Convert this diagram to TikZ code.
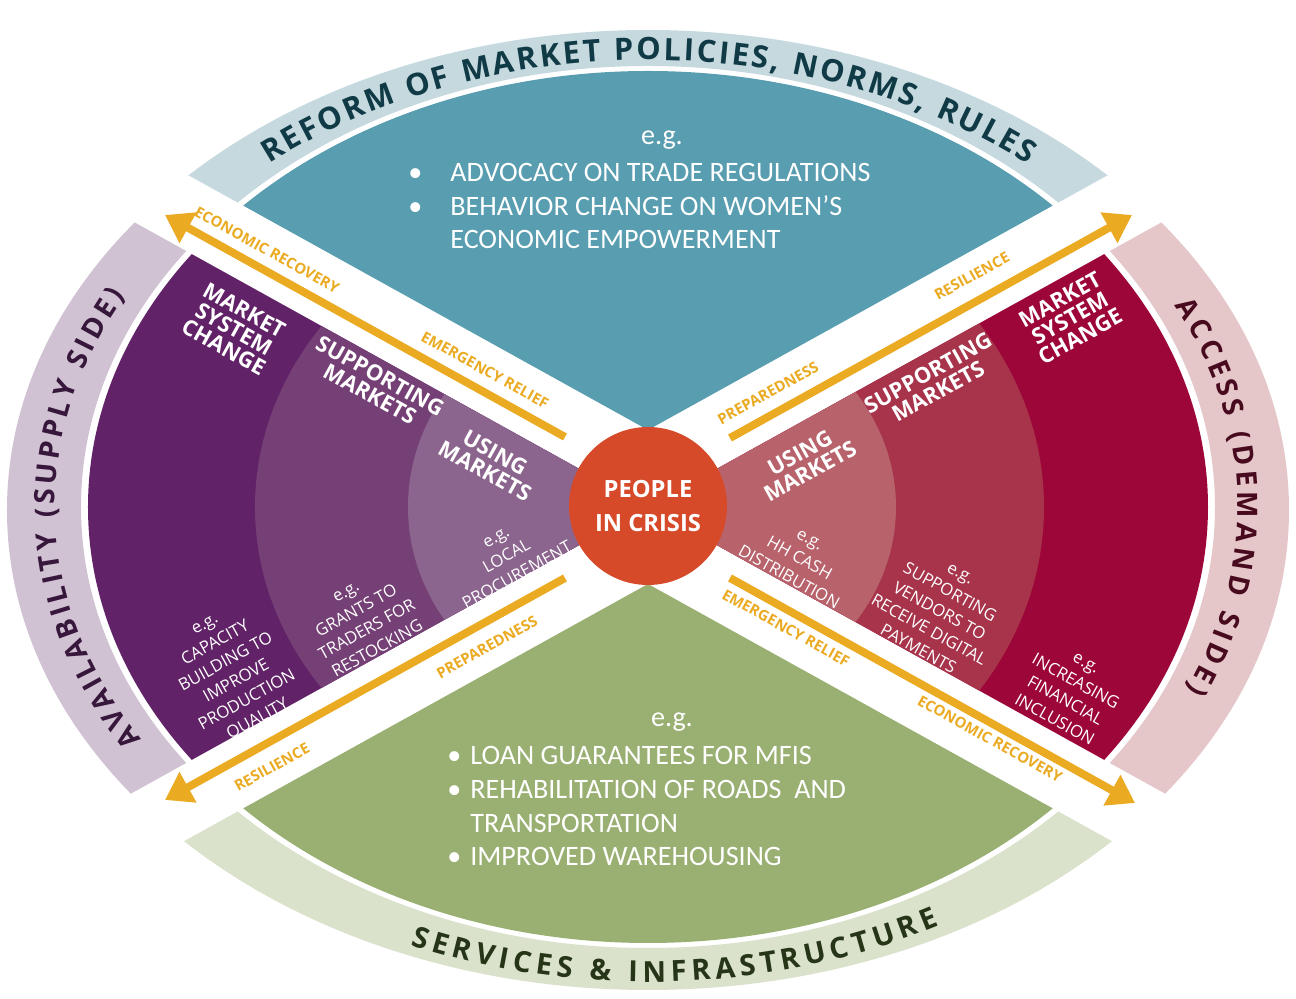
\documentclass[tikz,border=0pt]{standalone}
\usepackage{fontspec}
\setmainfont{Open Sans}
\newfontfamily\listfont{Carlito}
\usepackage{tikz}
\usetikzlibrary{arrows.meta}

\definecolor{tealsec}{RGB}{88,157,176}
\definecolor{tealband}{RGB}{197,217,223}
\definecolor{tealtitle}{RGB}{16,58,70}
\definecolor{purpmsc}{RGB}{97,34,103}
\definecolor{purpsup}{RGB}{117,64,117}
\definecolor{purpuse}{RGB}{139,101,141}
\definecolor{purpband}{RGB}{209,194,211}
\definecolor{purptitle}{RGB}{55,24,60}
\definecolor{redmsc}{RGB}{157,6,56}
\definecolor{redsup}{RGB}{167,52,75}
\definecolor{reduse}{RGB}{184,99,108}
\definecolor{redband}{RGB}{229,199,201}
\definecolor{redtitle}{RGB}{72,10,30}
\definecolor{greensec}{RGB}{154,176,115}
\definecolor{greenband}{RGB}{219,226,204}
\definecolor{greentitle}{RGB}{38,52,24}
\definecolor{phaseorange}{RGB}{234,170,34}
\definecolor{crisisred}{RGB}{214,74,42}

\tikzstyle{crisis} = [circle, fill=crisisred, minimum size=3.16cm, inner sep=0pt, text=white, align=center, font=\fontsize{13.5}{19.3}\selectfont\bfseries]
\tikzstyle{tier} = [text=white, align=center, inner sep=0pt, font=\fontsize{12.5}{12}\selectfont\bfseries]
\tikzstyle{example} = [text=white, align=center, inner sep=0pt, font=\fontsize{9.5}{12.4}\selectfont]
\tikzstyle{phase} = [text=phaseorange, inner sep=0pt, font=\fontsize{8.5}{9}\selectfont\bfseries]
\tikzstyle{phasearrow} = [draw=phaseorange, line width=4.5pt, -{Triangle[width=19pt,length=15pt]}]
\tikzstyle{bullets} = [text=white, align=left, inner sep=0pt, font=\listfont\fontsize{16}{19.3}\selectfont]
\tikzstyle{egtext} = [text=white, inner sep=0pt, font=\listfont\fontsize{16}{19.3}\selectfont]

\newdimen\chwd
\newbox\chbox

% letters spread along an elliptic arc: a, b, start angle, end angle, font, name, letters
\newcommand{\curvetext}[7]{%
  \gdef\totw{0}\gdef\nch{0}%
  \foreach \ch in {#7} {%
    \pgfinterruptpicture\global\setbox\chbox=\hbox{#5\ch}\endpgfinterruptpicture
    \chwd=\wd\chbox\relax
    \pgfmathsetmacro\tmp{\totw+\chwd/0.569055}\global\let\totw\tmp
    \pgfmathsetmacro\tmp{\nch+1}\global\let\nch\tmp
  }%
  \pgfmathsetmacro\sgn{(#4>#3)?1:-1}%
  \pgfmathsetmacro\spa{100*sqrt((#1/100*sin(#3))^2+(#2/100*cos(#3))^2)}%
  \pgfmathsetmacro\spm{100*sqrt((#1/100*sin((#3+#4)/2))^2+(#2/100*cos((#3+#4)/2))^2)}%
  \pgfmathsetmacro\spb{100*sqrt((#1/100*sin(#4))^2+(#2/100*cos(#4))^2)}%
  \pgfmathsetmacro\arclen{abs(#4-#3)/57.29578*(\spa+4*\spm+\spb)/6}%
  \pgfmathsetmacro\gap{(\arclen-\totw)/\nch}%
  \gdef\curt{#3}%
  \foreach \ch [count=\k] in {#7} {%
    \pgfinterruptpicture\global\setbox\chbox=\hbox{#5\ch}\endpgfinterruptpicture
    \chwd=\wd\chbox\relax
    \pgfmathsetmacro\spd{100*sqrt((#1/100*sin(\curt))^2+(#2/100*cos(\curt))^2)}%
    \pgfmathsetmacro\dw{\chwd/0.569055+\gap}%
    \pgfmathsetmacro\tmid{\curt+\sgn*(\dw/2)/\spd*57.29578}%
    \pgfmathsetmacro\rot{atan2(\sgn*#2*cos(\tmid),-\sgn*#1*sin(\tmid))}%
    \node (#6\k) [anchor=base, rotate=\rot, inner sep=0pt] at (\tmid:#1 and #2) {#5\ch};
    \pgfmathsetmacro\tmp{\curt+\sgn*\dw/\spd*57.29578}\global\let\curt\tmp
  }%
}

\begin{document}
\begin{tikzpicture}[x=0.2mm, y=0.2mm]
\useasboundingbox (-648,-492) rectangle (648,507);

% top: policies
\begin{scope}
\clip (0,77) -- +(29:1400) -- +(151:1400) -- cycle;
\fill[tealband, even odd rule] (0,-3) ellipse [x radius=641, y radius=480] (0,0) ellipse [x radius=567, y radius=441];
\fill[tealsec] (0,0) ellipse [x radius=560, y radius=436];
\end{scope}

% left: supply side
\begin{scope}
\clip (0,0) -- +(151:1400) -- +(209:1400) -- cycle;
\fill[purpband, even odd rule] (0,-3) ellipse [x radius=641, y radius=480] (0,0) ellipse [x radius=567, y radius=441];
\fill[purpmsc] (0,0) ellipse [x radius=560, y radius=436];
\fill[purpsup] (0,0) ellipse [x radius=393, y radius=325];
\fill[purpuse] (0,0) ellipse [x radius=240, y radius=213];
\end{scope}

% right: demand side
\begin{scope}
\clip (0,0) -- +(29:1400) -- +(-29:1400) -- cycle;
\fill[redband, even odd rule] (0,-3) ellipse [x radius=641, y radius=480] (0,0) ellipse [x radius=567, y radius=441];
\fill[redmsc] (0,0) ellipse [x radius=560, y radius=436];
\fill[redsup] (0,0) ellipse [x radius=396, y radius=335];
\fill[reduse] (0,0) ellipse [x radius=248, y radius=210];
\end{scope}

% bottom: services
\begin{scope}
\clip (0,-77) -- +(-29:1400) -- +(-151:1400) -- cycle;
\fill[greenband, even odd rule] (0,-3) ellipse [x radius=641, y radius=480] (0,0) ellipse [x radius=567, y radius=441];
\fill[greensec] (0,0) ellipse [x radius=560, y radius=436];
\end{scope}

% band titles
\curvetext{591}{447}{130}{50}{\fontsize{17.5}{18}\selectfont\bfseries\color{tealtitle}}{reform}{R,E,F,O,R,M,~,O,F,~,M,A,R,K,E,T,~,P,O,L,I,C,I,E,S,{,},~,N,O,R,M,S,{,},~,R,U,L,E,S}
\curvetext{593}{447}{211.5}{151.5}{\fontsize{16}{17}\selectfont\bfseries\color{purptitle}}{avail}{A,V,A,I,L,A,B,I,L,I,T,Y,~,{(},S,U,P,P,L,Y,~,S,I,D,E,{)}}
\curvetext{590}{447}{27}{-24.5}{\fontsize{16}{17}\selectfont\bfseries\color{redtitle}}{access}{A,C,C,E,S,S,~,{(},D,E,M,A,N,D,~,S,I,D,E,{)}}
\curvetext{615}{475}{247}{298.5}{\fontsize{16.5}{17}\selectfont\bfseries\color{greentitle}}{services}{S,E,R,V,I,C,E,S,~,\&,~,I,N,F,R,A,S,T,R,U,C,T,U,R,E}

% examples in top and bottom
\node (topeg) [egtext] at (14,367) {e.g.};
\node (toplist) [bullets, anchor=base west] at (-240,258) {\makebox[0.84cm][l]{•}ADVOCACY ON TRADE REGULATIONS\\\makebox[0.84cm][l]{•}BEHAVIOR CHANGE ON WOMEN’S\\\hspace*{0.84cm}ECONOMIC EMPOWERMENT};
\node (boteg) [egtext] at (24,-215) {e.g.};
\node (botlist) [bullets, anchor=base west] at (-201,-359) {\makebox[0.46cm][l]{•}LOAN GUARANTEES FOR MFIS\\\makebox[0.46cm][l]{•}REHABILITATION OF ROADS\ \ AND\\\hspace*{0.46cm}TRANSPORTATION\\\makebox[0.46cm][l]{•}IMPROVED WAREHOUSING};

% left tiers
\node (usel) [tier, rotate=-29] at (-158,45) {USING\\MARKETS};
\node (supl) [tier, rotate=-29] at (-273,122) {SUPPORTING\\MARKETS};
\node (mscl) [tier, rotate=-29] at (-414,178) {MARKET\\SYSTEM\\CHANGE};
\node (egusel) [example, rotate=29] at (-141,-50) {e.g.\\LOCAL\\PROCUREMENT};
\node (egsupl) [example, rotate=29] at (-286,-114) {e.g.\\GRANTS TO\\TRADERS FOR\\RESTOCKING};
\node (egmscl) [example, rotate=29] at (-416,-166) {e.g.\\CAPACITY\\BUILDING TO\\IMPROVE\\PRODUCTION\\QUALITY};

% right tiers
\node (user) [tier, rotate=29] at (157,45) {USING\\MARKETS};
\node (supr) [tier, rotate=29] at (285,125) {SUPPORTING\\MARKETS};
\node (mscr) [tier, rotate=29] at (422,189) {MARKET\\SYSTEM\\CHANGE};
\node (eguser) [example, rotate=-29] at (151,-52) {e.g.\\HH CASH\\DISTRIBUTION};
\node (egsupr) [example, rotate=-29] at (291,-105) {e.g.\\SUPPORTING\\VENDORS TO\\RECEIVE DIGITAL\\PAYMENTS};
\node (egmscr) [example, rotate=-29] at (422,-185) {e.g.\\INCREASING\\FINANCIAL\\INCLUSION};

% phase arrows
\coordinate (ulA) at (-83,70);
\coordinate (ulB) at (-483,292);
\coordinate (urA) at (82,69);
\coordinate (urB) at (484,292);
\coordinate (llA) at (-83,-71);
\coordinate (llB) at (-483,-293);
\coordinate (lrA) at (82,-71);
\coordinate (lrB) at (487,-296);
\draw[phasearrow] (ulA) -- (ulB);
\draw[phasearrow] (urA) -- (urB);
\draw[phasearrow] (llA) -- (llB);
\draw[phasearrow] (lrA) -- (lrB);
\node (ulfar) [phase, rotate=-29] at (-381,257) {ECONOMIC RECOVERY};
\node (ulnear) [phase, rotate=-29] at (-163,137) {EMERGENCY RELIEF};
\node (urnear) [phase, rotate=29] at (120,114) {PREPAREDNESS};
\node (urfar) [phase, rotate=29] at (324,231) {RESILIENCE};
\node (llnear) [phase, rotate=29] at (-161,-140) {PREPAREDNESS};
\node (llfar) [phase, rotate=29] at (-376,-260) {RESILIENCE};
\node (lrnear) [phase, rotate=-29] at (138,-121) {EMERGENCY RELIEF};
\node (lrfar) [phase, rotate=-29] at (342,-232) {ECONOMIC RECOVERY};

% centre
\node (people) [crisis] at (0,1) {PEOPLE\\IN CRISIS};
\end{tikzpicture}
\end{document}
